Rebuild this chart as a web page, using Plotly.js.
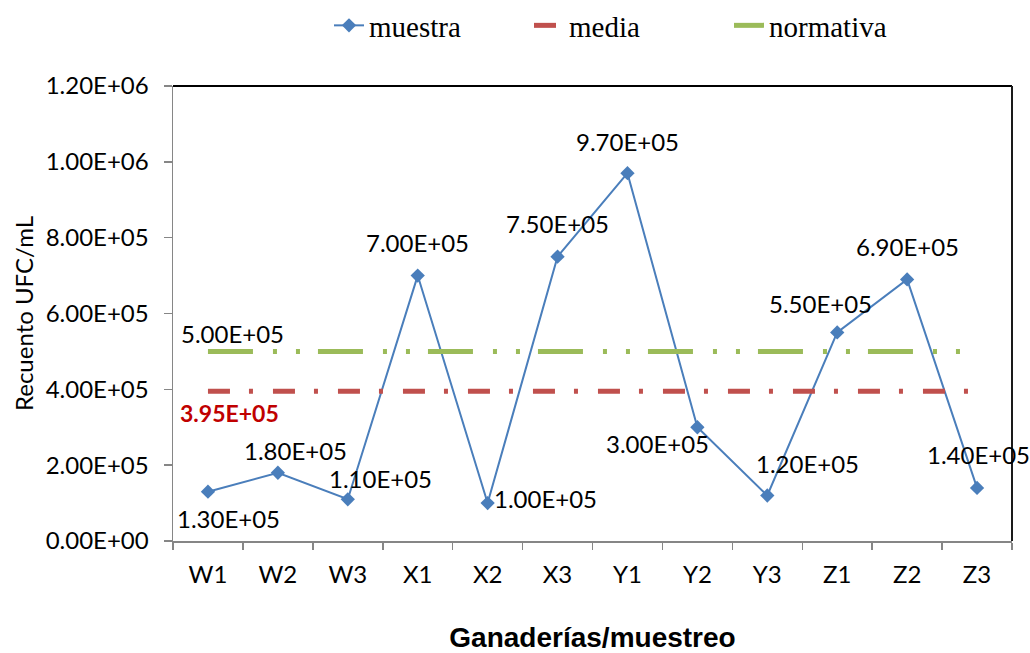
<!DOCTYPE html>
<html>
<head>
<meta charset="utf-8">
<script src="https://cdn.plot.ly/plotly-3.0.1.min.js"></script>
<style>
  html, body { margin: 0; padding: 0; background: #ffffff; }
  #chart { width: 1030px; height: 653px; }
</style>
</head>
<body>
<div id="chart"></div>
<script>
// Sampling points (farm / sampling round)
const categories = ['W1', 'W2', 'W3', 'X1', 'X2', 'X3', 'Y1', 'Y2', 'Y3', 'Z1', 'Z2', 'Z3'];

// Colony count per sample (UFC/mL)
const muestra = [1.30e5, 1.80e5, 1.10e5, 7.00e5, 1.00e5, 7.50e5, 9.70e5, 3.00e5, 1.20e5, 5.50e5, 6.90e5, 1.40e5];

// Mean of all samples and regulatory limit
const mediaValue = 3.95e5;
const normativaValue = 5.00e5;

// Y axis tick values
const yTicks = [0, 2e5, 4e5, 6e5, 8e5, 1.0e6, 1.2e6];

// Pixel offsets of each point label from its marker (right, up)
const labelShift = [
  [21, -27], [18, 22], [33, 21], [0, 33], [58, 5], [0, 33],
  [0, 32], [-40, -16], [40, 32], [-17, 29], [0, 33], [1, 33]
];

// Excel-style scientific notation: 1.30E+05
function sci(v) {
  const parts = v.toExponential(2).split('e');
  const n = parseInt(parts[1], 10);
  return parts[0] + 'E' + (n < 0 ? '-' : '+') + String(Math.abs(n)).padStart(2, '0');
}

const mediaSeries = categories.map(() => mediaValue);
const normativaSeries = categories.map(() => normativaValue);

const labelFont = { family: 'Lato, "Liberation Sans", sans-serif', size: 24, color: '#000000' };

const traces = [
  {
    name: 'muestra',
    x: categories,
    y: muestra,
    type: 'scatter',
    mode: 'lines+markers',
    line: { color: '#4a7ebb', width: 2 },
    marker: { symbol: 'diamond', size: 11, color: '#4a7ebb' },
    cliponaxis: false
  },
  {
    name: 'media',
    x: categories,
    y: mediaSeries,
    type: 'scatter',
    mode: 'lines',
    line: { color: '#c0504d', width: 5, dash: '22px,19px,4px,20px' }
  },
  {
    name: 'normativa',
    x: categories,
    y: normativaSeries,
    type: 'scatter',
    mode: 'lines',
    line: { color: '#9bbb59', width: 5, dash: '45px,20px,4px,19px,4px,18px' }
  }
];

// Value labels for each sample point
const annotations = muestra.map((v, i) => ({
  x: categories[i],
  y: v,
  xref: 'x',
  yref: 'y',
  text: sci(v),
  showarrow: false,
  xshift: labelShift[i][0],
  yshift: labelShift[i][1],
  font: labelFont
}));

// Labels for the reference lines (on the first category)
annotations.push({
  x: categories[0], y: normativaValue, xref: 'x', yref: 'y',
  text: sci(normativaValue), showarrow: false, xshift: 25, yshift: 18,
  font: labelFont
});
annotations.push({
  x: categories[0], y: mediaValue, xref: 'x', yref: 'y',
  text: '<b>' + sci(mediaValue) + '</b>', showarrow: false, xshift: 22, yshift: -22,
  font: { family: labelFont.family, size: 23, color: '#c00000' }
});

const axisGrey = '#868686';

const layout = {
  width: 1030,
  height: 653,
  paper_bgcolor: '#ffffff',
  plot_bgcolor: '#ffffff',
  margin: { l: 173, r: 18, t: 86, b: 112, pad: 0 },
  showlegend: true,
  legend: {
    orientation: 'h',
    xref: 'container',
    yref: 'container',
    x: 329 / 1030,
    xanchor: 'left',
    y: 1,
    yanchor: 'top',
    entrywidth: 155,
    font: { family: '"Liberation Serif", "Times New Roman", serif', size: 29, color: '#000000' },
    bgcolor: 'rgba(0,0,0,0)'
  },
  xaxis: {
    type: 'category',
    range: [-0.5, categories.length - 0.5],
    showgrid: false,
    zeroline: false,
    showline: true,
    linecolor: axisGrey,
    linewidth: 1.5,
    ticks: 'outside',
    tickson: 'boundaries',
    ticklen: 7,
    tickwidth: 1.5,
    tickcolor: axisGrey,
    ticklabelstandoff: 12,
    tickfont: labelFont,
    title: {
      text: 'Ganaderías/muestreo',
      font: { family: '"Liberation Sans", Arial, sans-serif', size: 28, color: '#000000', weight: 'bold' },
      standoff: 41
    }
  },
  yaxis: {
    range: [0, 1.2e6],
    tickvals: yTicks,
    ticktext: yTicks.map(sci),
    showgrid: false,
    zeroline: false,
    showline: true,
    linecolor: axisGrey,
    linewidth: 1.5,
    ticks: 'outside',
    ticklen: 8,
    tickwidth: 1.5,
    tickcolor: axisGrey,
    ticklabelstandoff: 10,
    tickfont: labelFont,
    title: {
      text: 'Recuento UFC/mL',
      font: { family: labelFont.family, size: 24, color: '#000000' },
      standoff: 5
    }
  },
  shapes: [
    { type: 'line', xref: 'paper', yref: 'paper', x0: 0, x1: 1, y0: 1, y1: 1,
      line: { color: '#000000', width: 2 } },
    { type: 'line', xref: 'paper', yref: 'paper', x0: 1, x1: 1, y0: 0, y1: 1,
      line: { color: '#1a1a1a', width: 2 } }
  ],
  annotations: annotations
};

Plotly.newPlot('chart', traces, layout, { displayModeBar: false, staticPlot: true });
</script>
</body>
</html>
